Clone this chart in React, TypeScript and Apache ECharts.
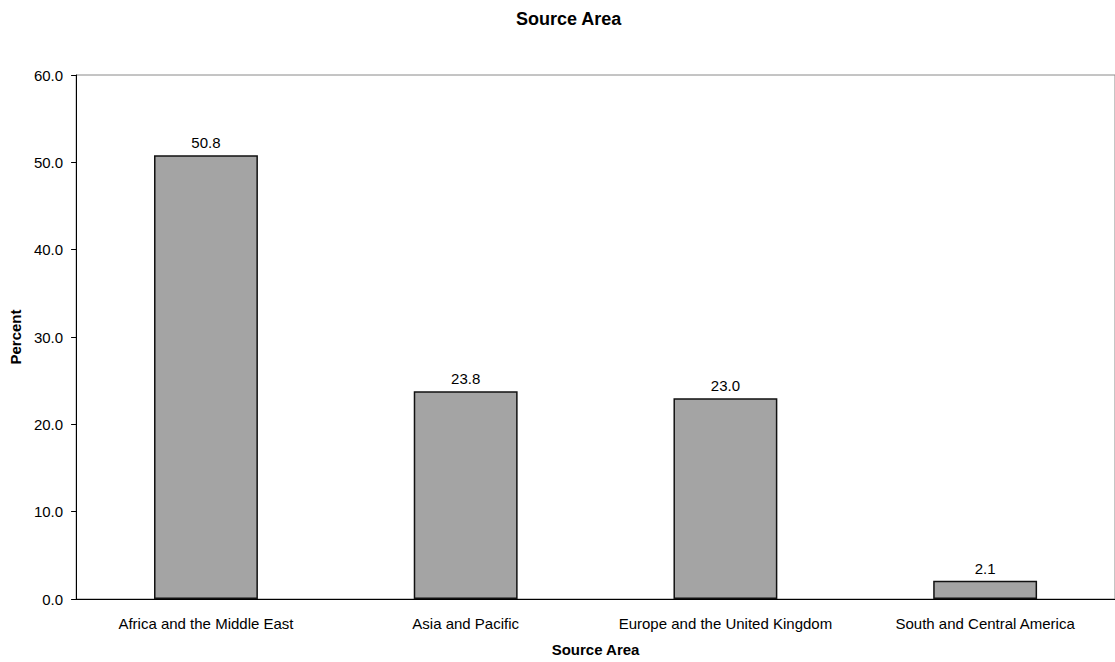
import React, { useEffect, useRef } from "react";
import * as echarts from "echarts";

const categories = [
  "Africa and the Middle East",
  "Asia and Pacific",
  "Europe and the United Kingdom",
  "South and Central America",
];
const percentValues = [50.8, 23.8, 23.0, 2.1];
const yTicks = { min: 0, max: 60, interval: 10 };

const FONT = "Liberation Sans, Arial, sans-serif";

export default function App() {
  const ref = useRef<HTMLDivElement>(null);

  useEffect(() => {
    if (!ref.current) return;
    const chart = echarts.init(ref.current, undefined, { renderer: "svg" });
    chart.setOption({
      animation: false,
      backgroundColor: "#ffffff",
      textStyle: { fontFamily: FONT },
      title: {
        text: "Source Area",
        left: 511,
        top: 5,
        textStyle: { fontFamily: FONT, fontSize: 18, fontWeight: "bold", color: "#000" },
      },
      grid: {
        left: 76,
        width: 1044,
        top: 75,
        bottom: 59,
        containLabel: false,
        show: true,
        borderColor: "#8a8a8a",
        borderWidth: 1,
      },
      xAxis: {
        type: "category",
        data: categories,
        name: "Source Area",
        nameLocation: "middle",
        nameGap: 43,
        nameTextStyle: { fontFamily: FONT, fontSize: 15, fontWeight: "bold", color: "#000" },
        axisLine: { lineStyle: { color: "#000", width: 1 } },
        axisTick: { show: false },
        axisLabel: {
          fontFamily: FONT,
          fontSize: 15,
          color: "#000",
          margin: 17,
          interval: 0,
          hideOverlap: false,
        },
      },
      yAxis: {
        type: "value",
        min: yTicks.min,
        max: yTicks.max,
        interval: yTicks.interval,
        name: "Percent",
        nameLocation: "middle",
        nameGap: 53,
        nameRotate: 90,
        nameTextStyle: { fontFamily: FONT, fontSize: 15, fontWeight: "bold", color: "#000" },
        axisLine: { show: true, lineStyle: { color: "#000", width: 1 } },
        axisTick: { show: true, length: 5, lineStyle: { color: "#000" } },
        splitLine: { show: false },
        axisLabel: {
          fontFamily: FONT,
          fontSize: 15,
          color: "#000",
          margin: 13,
          formatter: (v: number) => v.toFixed(1),
        },
      },
      series: [
        {
          type: "bar",
          data: percentValues,
          barWidth: "40%",
          itemStyle: { color: "#a4a4a4", borderColor: "#111", borderWidth: 1.5 },
          label: {
            show: true,
            position: "top",
            distance: 5,
            fontFamily: FONT,
            fontSize: 15,
            color: "#000",
            formatter: (p: any) => Number(p.value).toFixed(1),
          },
        },
      ],
    });
    return () => chart.dispose();
  }, []);

  return <div ref={ref} style={{ width: 1115, height: 662, position: "absolute", left: 0, top: 0 }} />;
}
